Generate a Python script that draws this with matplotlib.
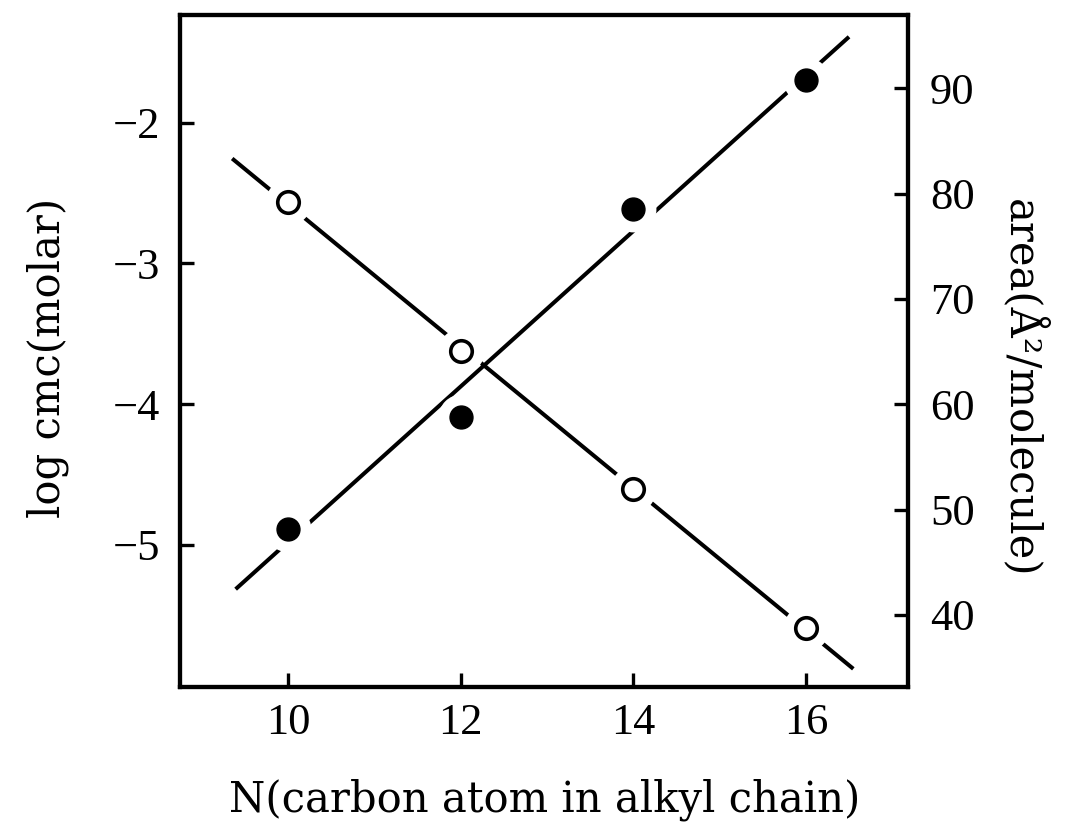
import numpy as np
import matplotlib
matplotlib.use("Agg")
import matplotlib.pyplot as plt

# chain length N and the two measured series
n_carbon = [10, 12, 14, 16]
log_cmc = [-2.56, -3.62, -4.60, -5.59]      # open circles, left axis
area = [48.2, 58.8, 78.5, 90.8]             # filled circles, right axis

# x extent of the two straight fit lines
cmc_fit_range = [9.35, 16.55]
area_fit_range = [9.39, 16.50]

x_ticks = [10, 12, 14, 16]
cmc_ticks = [-2, -3, -4, -5]
area_ticks = [40, 50, 60, 70, 80, 90]

plt.rcParams["font.family"] = ["Liberation Serif", "DejaVu Serif"]
plt.rcParams["axes.unicode_minus"] = True
label_font = ["DejaVu Serif", "Liberation Serif"]

fig = plt.figure(figsize=(10.7, 8.24), dpi=100)
ax = fig.add_axes([0.1682, 0.1666, 0.6801, 0.8152])
ax2 = ax.twinx()

# log cmc: fitted line, white gaps around points, open markers
c1 = np.polyfit(n_carbon, log_cmc, 1)
xs1 = np.array(cmc_fit_range)
ax.plot(xs1, np.polyval(c1, xs1), color="black", lw=2.9, solid_capstyle="butt", zorder=2)
ax.plot(n_carbon, log_cmc, "o", ms=33, color="white", mec="none", zorder=3)
ax.plot(n_carbon, log_cmc, "o", ms=15.5, mfc="white", mec="black", mew=2.6, zorder=4)

# area: same treatment with filled markers
c2 = np.polyfit(n_carbon, area, 1)
xs2 = np.array(area_fit_range)
ax2.plot(xs2, np.polyval(c2, xs2), color="black", lw=2.9, solid_capstyle="butt", zorder=2)
ax2.plot(n_carbon, area, "o", ms=33, color="white", mec="none", zorder=3)
ax2.plot(n_carbon, area, "o", ms=16.5, color="black", zorder=4)

ax.set_xlim(8.745, 17.18)
ax.set_ylim(-6.007, -1.235)
ax2.set_ylim(33.19, 96.96)

ax.set_xticks(x_ticks)
ax.set_yticks(cmc_ticks)
ax2.set_yticks(area_ticks)

for a in (ax, ax2):
    for s in a.spines.values():
        s.set_linewidth(3.0)

ax.tick_params(axis="both", direction="in", length=10, width=2.4,
               labelsize=32, top=False, right=False)
ax.tick_params(axis="y", pad=14)
ax.tick_params(axis="x", pad=12)
ax2.tick_params(axis="y", direction="in", length=10, width=2.4,
                labelsize=32, pad=16)

fig.text(0.5093, 0.0146, "N(carbon atom in alkyl chain)", fontsize=30,
         family=label_font, ha="center", va="baseline")
fig.text(0.056, 0.5655, "log cmc(molar)", fontsize=30, family=label_font,
         rotation=90, rotation_mode="anchor", ha="center", va="baseline")
fig.text(0.943, 0.529, "area(Å²/molecule)", fontsize=30, family=label_font,
         rotation=270, rotation_mode="anchor", ha="center", va="baseline")

fig.savefig("out.png", dpi=100)
